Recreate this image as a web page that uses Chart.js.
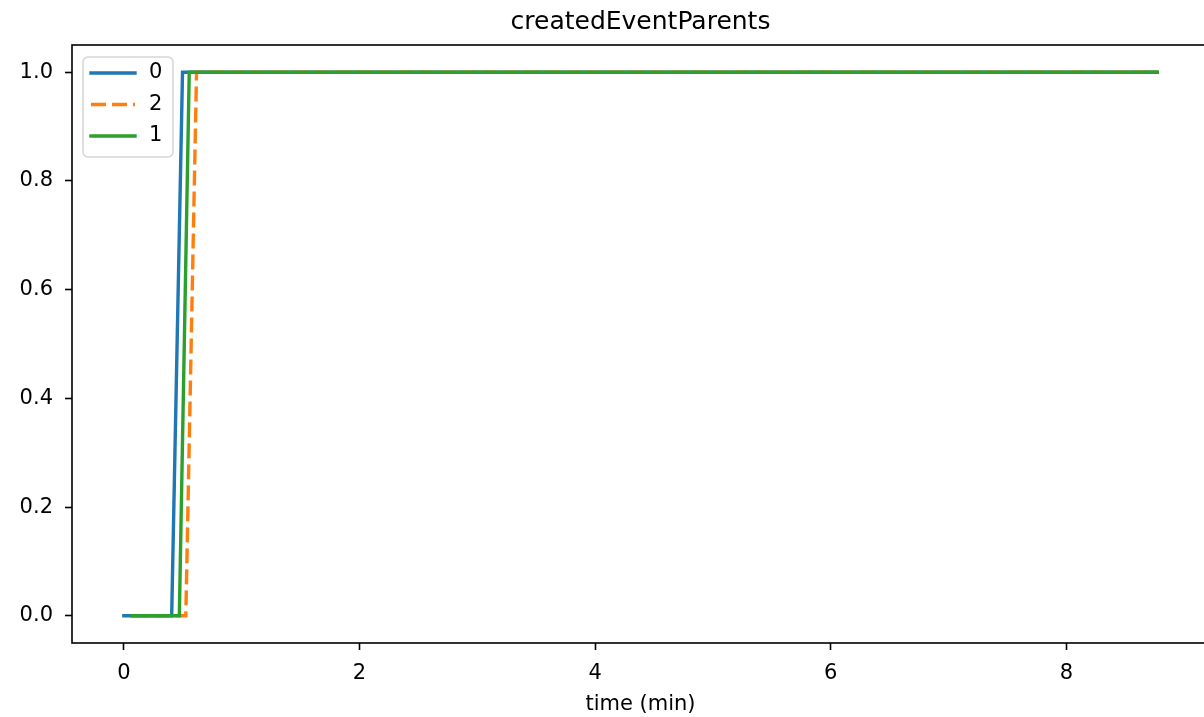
<!DOCTYPE html>
<html>
<head>
<meta charset="utf-8">
<script src="https://cdn.jsdelivr.net/npm/chart.js@4.4.1/dist/chart.umd.min.js"></script>
<style>
  html, body { margin: 0; padding: 0; background: #fff; overflow: hidden; }
  canvas { display: block; }
</style>
</head>
<body>
<canvas id="chart" width="1281" height="717"></canvas>
<script>
// series (time in minutes)
var seriesNames = ['0', '2', '1'];
var times0 = [0, 0.406, 0.498, 8.77];
var values0 = [0, 0, 1, 1];
var times2 = [0.08, 0.526, 0.617, 8.77];
var values2 = [0, 0, 1, 1];
var times1 = [0.07, 0.471, 0.555, 8.77];
var values1 = [0, 0, 1, 1];
var yTicks = [0, 0.2, 0.4, 0.6, 0.8, 1.0];
var xTicks = [0, 2, 4, 6, 8];

var FONT = 'DejaVu Sans';

function points(xs, ys) {
    return xs.map(function (x, i) { return {x: x, y: ys[i]}; });
}

// box round the plot, like the matplotlib spines
var frame = {
    id: 'frame',
    afterDatasetsDraw: function (chart) {
        var a = chart.chartArea, ctx = chart.ctx;
        ctx.save();
        ctx.strokeStyle = '#000';
        ctx.lineWidth = 1.6;
        ctx.strokeRect(a.left, a.top, a.right - a.left, a.bottom - a.top);
        ctx.restore();
    }
};

// legend in the upper left corner of the plot
var cornerLegend = {
    id: 'cornerLegend',
    afterDraw: function (chart) {
        var ctx = chart.ctx;
        var a = chart.chartArea;
        var x = a.left + 11, y = a.top + 12, w = 90, h = 100;
        ctx.save();
        ctx.beginPath();
        ctx.roundRect(x, y, w, h, 5);
        ctx.fillStyle = 'rgba(255,255,255,0.8)';
        ctx.fill();
        ctx.strokeStyle = '#d6d6d6';
        ctx.lineWidth = 1.6;
        ctx.stroke();
        chart.data.datasets.forEach(function (ds, i) {
            var ly = y + 16 + i * 31.5;
            ctx.beginPath();
            ctx.setLineDash(ds.borderDash || []);
            ctx.lineCap = ds.borderDash ? 'butt' : 'square';
            ctx.strokeStyle = ds.borderColor;
            ctx.lineWidth = ds.borderWidth;
            ctx.moveTo(x + 8, ly);
            ctx.lineTo(x + 52, ly);
            ctx.stroke();
            ctx.setLineDash([]);
            ctx.fillStyle = '#000';
            ctx.font = '21px "' + FONT + '"';
            ctx.textBaseline = 'middle';
            ctx.fillText(ds.label, x + 66, ly);
        });
        ctx.restore();
    }
};

var tickGrid = {
    drawOnChartArea: false,
    drawTicks: true,
    tickLength: 7,
    tickWidth: 1.6,
    tickColor: '#000'
};

var ctx = document.getElementById('chart');

var myChart = new Chart(ctx, {
    type: 'line',
    data: {
        datasets: [
            {
                label: seriesNames[0],
                data: points(times0, values0),
                borderColor: '#1f77b4',
                borderWidth: 3.4,
                borderCapStyle: 'square',
                order: 2
            },
            {
                label: seriesNames[1],
                data: points(times2, values2),
                borderColor: '#ff7f0e',
                borderWidth: 3.4,
                borderDash: [15, 6],
                order: 1
            },
            {
                label: seriesNames[2],
                data: points(times1, values1),
                borderColor: '#2ca02c',
                borderWidth: 3.4,
                borderCapStyle: 'square',
                order: 0
            }
        ]
    },
    options: {
        responsive: false,
        animation: false,
        devicePixelRatio: 1,
        layout: { padding: 0 },
        elements: {
            point: { radius: 0, hoverRadius: 0 },
            line: { tension: 0, fill: false }
        },
        plugins: {
            legend: { display: false },
            tooltip: { enabled: false },
            title: {
                display: true,
                text: 'createdEventParents',
                color: '#000',
                font: { family: FONT, size: 25, weight: 'normal' },
                padding: { top: 7, bottom: 8 }
            }
        },
        scales: {
            x: {
                type: 'linear',
                min: -0.44,
                max: 9.21,
                afterFit: function (s) { s.height = 74; },
                afterBuildTicks: function (s) {
                    s.ticks = xTicks.map(function (v) { return {value: v}; });
                },
                border: { display: false },
                grid: tickGrid,
                ticks: {
                    color: '#000',
                    font: { family: FONT, size: 21 },
                    padding: 11,
                    maxRotation: 0,
                    autoSkip: false,
                    callback: function (v) { return String(v); }
                },
                title: {
                    display: true,
                    text: 'time (min)',
                    color: '#000',
                    font: { family: FONT, size: 21 },
                    padding: { top: 0, bottom: 0 }
                }
            },
            y: {
                min: -0.05,
                max: 1.05,
                afterFit: function (s) { s.width = 72; },
                afterBuildTicks: function (s) {
                    s.ticks = yTicks.map(function (v) { return {value: v}; });
                },
                border: { display: false },
                grid: tickGrid,
                ticks: {
                    color: '#000',
                    font: { family: FONT, size: 21 },
                    padding: 12,
                    autoSkip: false,
                    callback: function (v) { return Number(v).toFixed(1); }
                }
            },
            // empty right-hand axis so the plot sits where the original does
            yRight: {
                position: 'right',
                min: -0.05,
                max: 1.05,
                afterFit: function (s) { s.width = 72; },
                border: { display: false },
                grid: { display: false },
                ticks: { display: false }
            }
        }
    },
    plugins: [frame, cornerLegend]
});
</script>
</body>
</html>
